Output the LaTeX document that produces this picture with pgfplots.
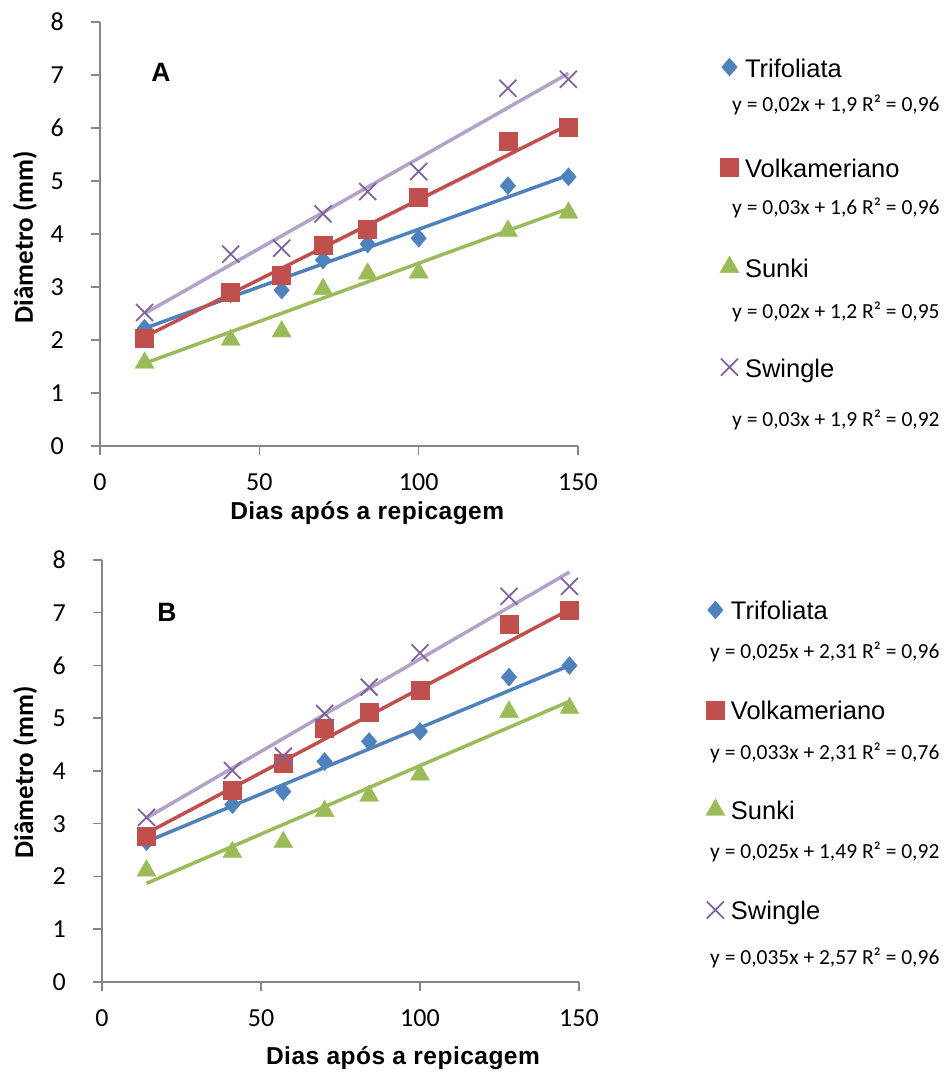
\documentclass[border=0pt]{standalone}
\usepackage{fontspec}
\setmainfont{Liberation Sans}
\newfontfamily\carlito{Carlito}
\newfontfamily\xlabfont[LetterSpace=2]{Liberation Sans}
\usepackage{pgfplots}
\pgfplotsset{compat=1.18}
\definecolor{cblue}{HTML}{4F81BD}
\definecolor{cred}{HTML}{C0504D}
\definecolor{cgreen}{HTML}{9BBB59}
\definecolor{cpurple}{HTML}{7F63A1}
\definecolor{clpurple}{HTML}{B3A2C7}
\definecolor{axgray}{HTML}{868686}
\pgfplotsset{
  panel/.style={
    scale only axis,
    xmin=0, xmax=150, ymin=0, ymax=8,
    xtick={0,50,100,150}, ytick={0,1,...,8},
    axis lines=left,
    axis line style={axgray, line width=1.5pt, -},
    tick style={axgray, line width=1.5pt},
    tick align=outside, major tick length=9pt,
    /pgf/number format/assume math mode=true,
    ticklabel style={font=\carlito\fontsize{26}{30}\selectfont, text=black},
    xticklabel style={anchor=center, yshift=-27pt},
    yticklabel style={anchor=east, inner sep=0pt, xshift=-27pt},
    ylabel={\carlito\bfseries Diâmetro (mm)},
    ylabel style={font=\fontsize{27}{30}\selectfont, anchor=center},
    xlabel={\xlabfont\bfseries Dias após a repicagem},
    xlabel style={font=\fontsize{24.5}{28}\selectfont, anchor=center},
    clip=false,
    legend cell align=left,
    legend style={draw=none, fill=none, inner sep=0pt, outer sep=0pt,
      anchor=north west, font=\fontsize{25.5}{30}\selectfont,
      row sep=76pt, column sep=6pt,
      nodes={inner sep=0pt, text height=22pt, text depth=2pt}},
    legend image code/.code={\draw[##1] plot coordinates {(0pt,0pt)};},
  },
  sTri/.style={only marks, mark=diamond*, mark size=9pt, mark options={xscale=1.15}, color=cblue},
  sVol/.style={only marks, mark=square*, mark size=9pt, color=cred},
  sSun/.style={only marks, mark=triangle*, mark size=11pt, color=cgreen},
  sSwi/.style={only marks, mark=x, mark size=12pt, line width=1.8pt, color=cpurple},
  tl/.style={line width=3.5pt, forget plot, mark=none},
}
\begin{document}
\begin{tikzpicture}
\useasboundingbox (0,0) rectangle (947pt,1076pt);
% ---------------- Panel A
\begin{axis}[panel, at={(100pt,630pt)}, anchor=south west, width=478pt, height=424pt,
  xlabel style={at={(axis description cs:0.559,-0.158)}},
  ylabel style={at={(axis description cs:-0.157,0.493)}},
  legend style={at={(axis description cs:1.297,0.922)}}]
\addplot[sTri] coordinates {(14,2.22)(41,2.87)(57,2.94)(70,3.51)(84,3.81)(100,3.92)(128,4.91)(147,5.08)};
\addlegendentry{Trifoliata}
\addplot[sVol] coordinates {(14,2.03)(41,2.91)(57,3.23)(70,3.79)(84,4.09)(100,4.70)(128,5.76)(147,6.02)};
\addlegendentry{Volkameriano}
\addplot[sSun] coordinates {(14,1.57)(41,2.00)(57,2.16)(70,2.96)(84,3.25)(100,3.27)(128,4.06)(147,4.40)};
\addlegendentry{Sunki}
\addplot[sSwi] coordinates {(14,2.52)(41,3.62)(57,3.73)(70,4.38)(84,4.80)(100,5.18)(128,6.75)(147,6.92)};
\addlegendentry{Swingle}
\addplot[tl, cblue] coordinates {(14,2.22)(147,5.11)};
\addplot[tl, cred] coordinates {(14,2.06)(147,6.06)};
\addplot[tl, cgreen] coordinates {(14,1.56)(147,4.48)};
\addplot[tl, clpurple] coordinates {(14,2.50)(147,7.03)};
\end{axis}
% ---------------- Panel B
\begin{axis}[panel, at={(102pt,94pt)}, anchor=south west, width=477pt, height=422pt,
  xlabel style={at={(axis description cs:0.631,-0.18)}},
  ylabel style={at={(axis description cs:-0.161,0.498)}},
  legend style={at={(axis description cs:1.266,0.910)}}]
\addplot[sTri] coordinates {(14,2.66)(41,3.36)(57,3.61)(70,4.18)(84,4.56)(100,4.75)(128,5.78)(147,6.00)};
\addlegendentry{Trifoliata}
\addplot[sVol] coordinates {(14,2.76)(41,3.64)(57,4.15)(70,4.81)(84,5.11)(100,5.53)(128,6.79)(147,7.05)};
\addlegendentry{Volkameriano}
\addplot[sSun] coordinates {(14,2.11)(41,2.46)(57,2.65)(70,3.24)(84,3.53)(100,3.93)(128,5.12)(147,5.19)};
\addlegendentry{Sunki}
\addplot[sSwi] coordinates {(14,3.12)(41,4.01)(57,4.28)(70,5.09)(84,5.59)(100,6.24)(128,7.31)(147,7.50)};
\addlegendentry{Swingle}
\addplot[tl, cblue] coordinates {(14,2.66)(147,6.00)};
\addplot[tl, cred] coordinates {(14,2.82)(147,7.06)};
\addplot[tl, cgreen] coordinates {(14,1.87)(147,5.32)};
\addplot[tl, clpurple] coordinates {(14,3.11)(147,7.77)};
\end{axis}
% panel letters
\node[font=\bfseries\fontsize{26.5}{30}\selectfont] at (161pt,1004pt) {A};
\node[font=\bfseries\fontsize{26.5}{30}\selectfont] at (167pt,464pt) {B};
% equations
\begin{scope}[every node/.style={anchor=west, inner sep=0pt, font=\carlito\fontsize{21.5}{26}\selectfont}]
\node at (732pt,971pt) {y = 0,02x + 1,9 R² = 0,96};
\node at (732pt,868pt) {y = 0,03x + 1,6 R² = 0,96};
\node at (732pt,764pt) {y = 0,02x + 1,2 R² = 0,95};
\node at (732pt,656pt) {y = 0,03x + 1,9 R² = 0,92};
\node at (710pt,424pt) {y = 0,025x + 2,31 R² = 0,96};
\node at (710pt,323pt) {y = 0,033x + 2,31 R² = 0,76};
\node at (710pt,224pt) {y = 0,025x + 1,49 R² = 0,92};
\node at (710pt,118pt) {y = 0,035x + 2,57 R² = 0,96};
\end{scope}
\end{tikzpicture}
\end{document}
